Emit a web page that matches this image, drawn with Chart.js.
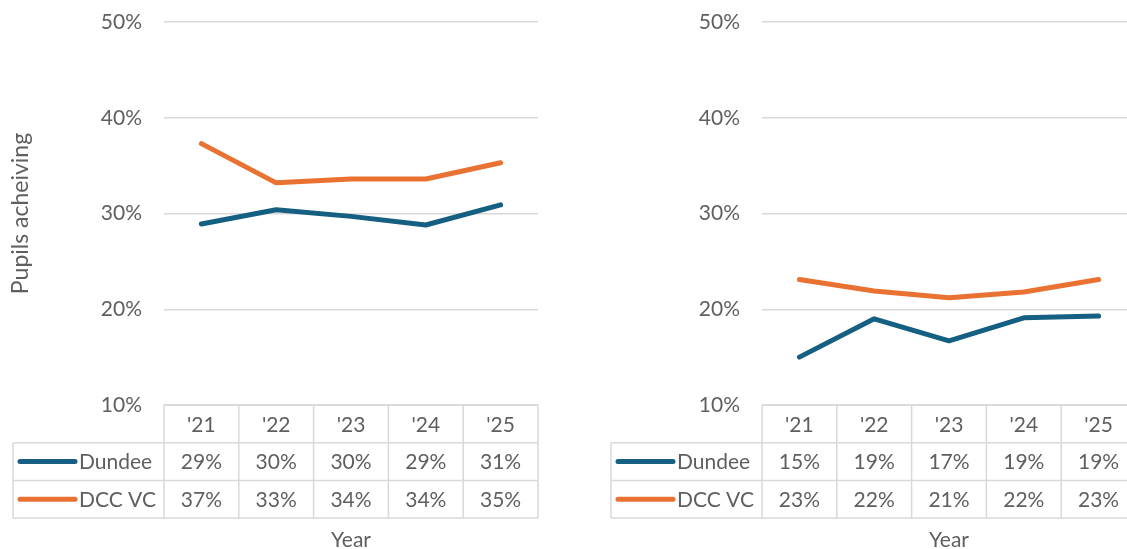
<!DOCTYPE html>
<html>
<head>
<meta charset="utf-8">
<script src="https://cdn.jsdelivr.net/npm/chart.js@4.4.1/dist/chart.umd.min.js"></script>
<style>
  body { margin: 0; background: #fff; overflow: hidden; width: 1127px; height: 549px; position: relative; }
  .box { position: absolute; top: 0; width: 560px; height: 549px; }
</style>
</head>
<body>
<div class="box" style="left:0"><canvas id="leftChart" width="560" height="549"></canvas></div>
<div class="box" style="left:598px"><canvas id="rightChart" width="560" height="549"></canvas></div>
<script>
const years = ["'21", "'22", "'23", "'24", "'25"];
const seriesNames = ['Dundee', 'DCC VC'];
const seriesColors = ['#156082', '#E97132'];

// left panel
const leftDundee = [28.9, 30.4, 29.7, 28.8, 30.9];
const leftDccVc = [37.3, 33.2, 33.6, 33.6, 35.3];

// right panel
const rightDundee = [15.0, 19.0, 16.7, 19.1, 19.3];
const rightDccVc = [23.1, 21.9, 21.2, 21.8, 23.1];

const yTicks = [10, 20, 30, 40, 50];

const textColor = '#5f5f5f';
const lineGrey = '#D9D9D9';
const fontFamily = "Lato, 'Open Sans', sans-serif";
const fontSize = 21;

// draws the data table under the plot, plus the "Year" label
const dataTablePlugin = {
    id: 'dataTable',
    afterDraw: function (chart) {
        const ctx = chart.ctx;
        const area = chart.chartArea;
        const cols = chart.data.labels.length;
        const colW = area.width / cols;
        const rowH = 37.7;
        const top = area.bottom;
        const tableLeft = 13;

        ctx.save();
        ctx.strokeStyle = lineGrey;
        ctx.lineWidth = 1.5;

        // horizontal lines
        ctx.beginPath();
        ctx.moveTo(area.left, top);
        ctx.lineTo(area.right, top);
        for (let r = 1; r <= chart.data.datasets.length + 1; r++) {
            ctx.moveTo(tableLeft, top + r * rowH);
            ctx.lineTo(area.right, top + r * rowH);
        }
        // vertical lines
        const bottom = top + (chart.data.datasets.length + 1) * rowH;
        for (let c = 0; c <= cols; c++) {
            ctx.moveTo(area.left + c * colW, top);
            ctx.lineTo(area.left + c * colW, bottom);
        }
        ctx.moveTo(tableLeft, top + rowH);
        ctx.lineTo(tableLeft, bottom);
        ctx.stroke();

        ctx.fillStyle = textColor;
        ctx.font = fontSize + 'px ' + fontFamily;
        ctx.textBaseline = 'middle';
        ctx.textAlign = 'center';

        // header row
        chart.data.labels.forEach(function (lab, i) {
            ctx.fillText(lab, area.left + (i + 0.5) * colW, top + rowH / 2 + 1);
        });

        // series rows
        chart.data.datasets.forEach(function (ds, r) {
            const y = top + (r + 1.5) * rowH;
            ctx.strokeStyle = ds.borderColor;
            ctx.lineWidth = 5;
            ctx.lineCap = 'round';
            ctx.beginPath();
            ctx.moveTo(20, y);
            ctx.lineTo(75, y);
            ctx.stroke();

            ctx.textAlign = 'left';
            ctx.fillText(ds.label, 79, y + 1);
            ctx.textAlign = 'center';
            ds.data.forEach(function (v, i) {
                ctx.fillText(Math.round(v) + '%', area.left + (i + 0.5) * colW, y + 1);
            });
        });

        // axis title under the table
        ctx.fillText('Year', (area.left + area.right) / 2, 540);
        ctx.restore();
    }
};

function renderPanel(canvasId, dundee, dccVc, showTitle) {
    var ctx = document.getElementById(canvasId).getContext('2d');

    return new Chart(ctx, {
        type: 'line',
        data: {
            labels: years,
            datasets: [{
                label: seriesNames[0],
                data: dundee,
                borderColor: seriesColors[0],
                backgroundColor: seriesColors[0],
                borderWidth: 5,
            }, {
                label: seriesNames[1],
                data: dccVc,
                borderColor: seriesColors[1],
                backgroundColor: seriesColors[1],
                borderWidth: 5,
            }]
        },
        options: {
            responsive: false,
            animation: false,
            layout: {
                padding: { left: 0, top: 22, right: 22, bottom: 144 }
            },
            elements: {
                point: { radius: 0, hoverRadius: 0 },
                line: { tension: 0, borderCapStyle: 'round', borderJoinStyle: 'round' }
            },
            scales: {
                x: {
                    display: false,
                    offset: true
                },
                y: {
                    min: yTicks[0],
                    max: yTicks[yTicks.length - 1],
                    afterBuildTicks: function (scale) {
                        scale.ticks = yTicks.map(function (v) { return { value: v }; });
                    },
                    afterFit: function (scale) {
                        scale.width = 164;
                        scale.paddingTop = 0;
                        scale.paddingBottom = 0;
                    },
                    border: { display: false },
                    grid: {
                        color: lineGrey,
                        lineWidth: 1.5,
                        drawTicks: false
                    },
                    ticks: {
                        padding: 22,
                        color: textColor,
                        font: { family: fontFamily, size: fontSize },
                        callback: function (v) { return v + '%'; }
                    },
                    title: {
                        display: showTitle,
                        text: 'Pupils acheiving',
                        color: textColor,
                        font: { family: fontFamily, size: 23 },
                        padding: { top: 7, bottom: 0 }
                    }
                }
            },
            plugins: {
                legend: { display: false },
                tooltip: { enabled: false }
            }
        },
        plugins: [dataTablePlugin]
    });
}

renderPanel('leftChart', leftDundee, leftDccVc, true);
renderPanel('rightChart', rightDundee, rightDccVc, false);
</script>
</body>
</html>
